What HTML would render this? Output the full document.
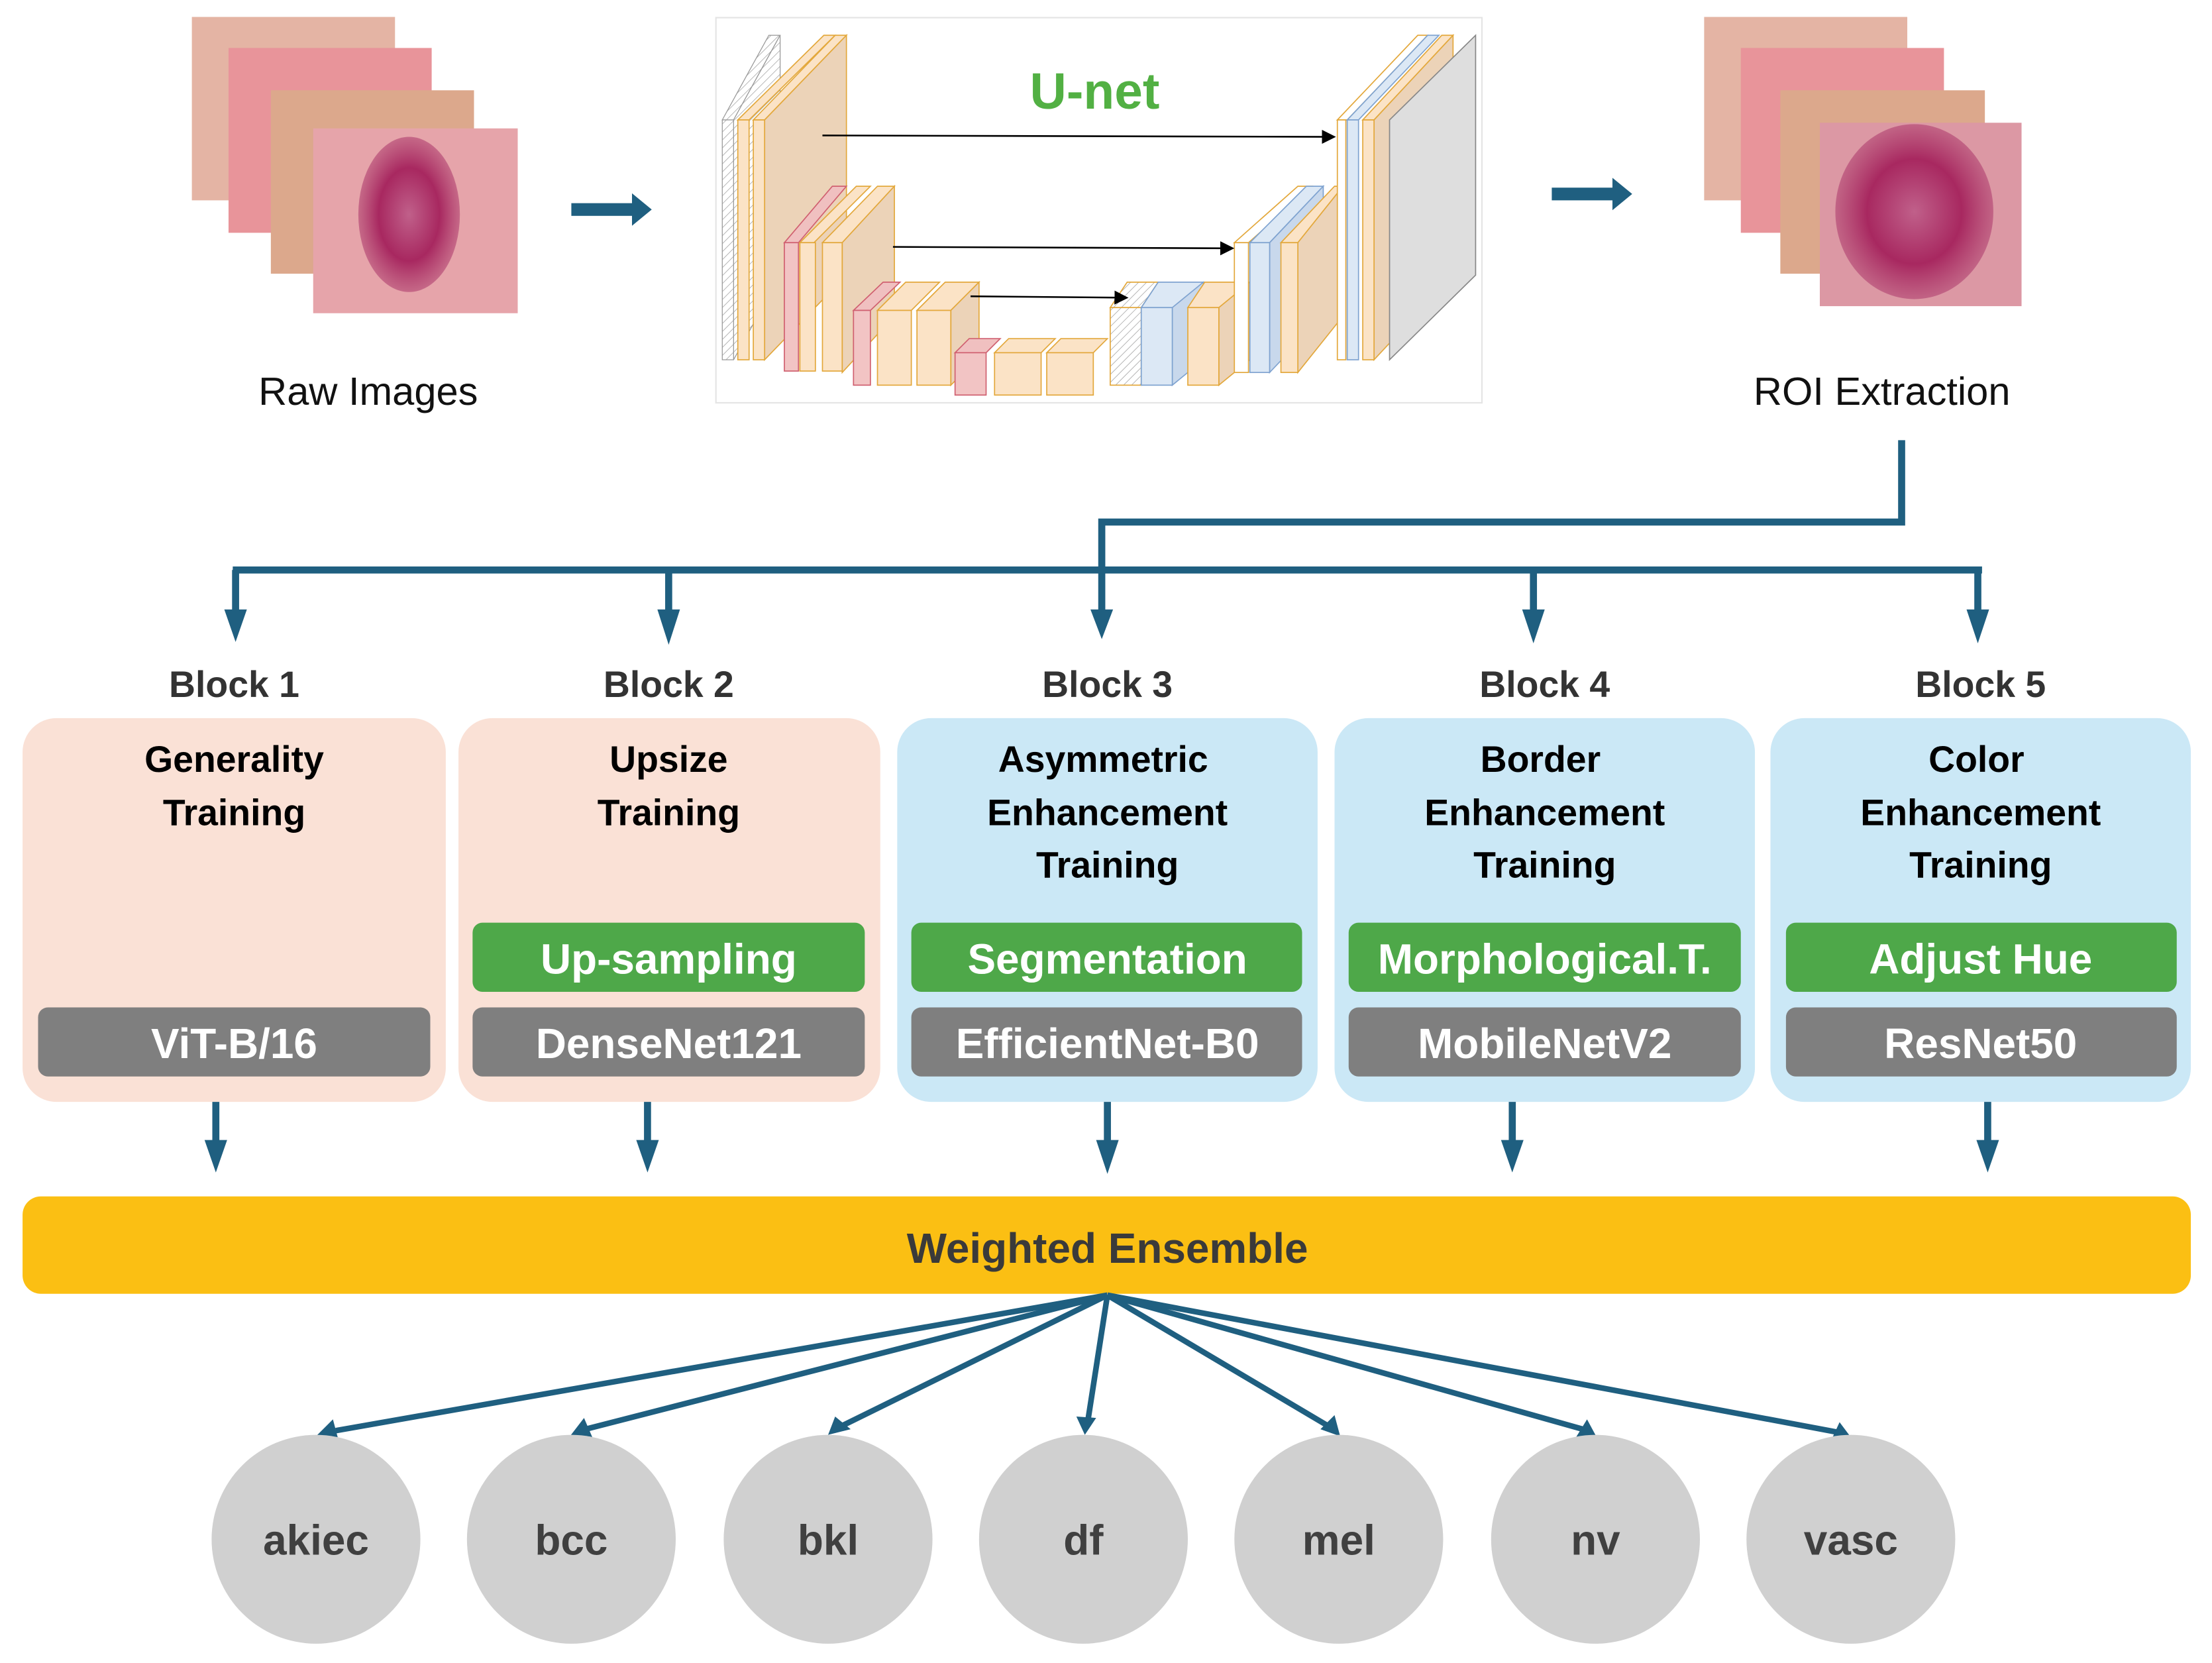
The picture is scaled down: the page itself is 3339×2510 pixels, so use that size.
<!DOCTYPE html>
<html><head><meta charset="utf-8"><style>
html,body{margin:0;padding:0;background:#fff}
svg{display:block}
text{font-family:"Liberation Sans",sans-serif}
</style></head><body>
<svg width="3339" height="2510" viewBox="0 0 1568 1178.7" preserveAspectRatio="none" xmlns="http://www.w3.org/2000/svg">
<defs>
<pattern id="hatch" width="4" height="4" patternUnits="userSpaceOnUse" patternTransform="rotate(45)"><rect width="4" height="4" fill="#fff"/><line x1="0" y1="0" x2="0" y2="4" stroke="#aaa" stroke-width="0.8"/></pattern>
<radialGradient id="les" cx="50%" cy="50%" r="50%"><stop offset="0" stop-color="#c0608a"/><stop offset="0.6" stop-color="#a82860"/><stop offset="1" stop-color="#b04070" stop-opacity="0.6"/></radialGradient>
<marker id="ah" markerWidth="10" markerHeight="10" refX="8" refY="5" orient="auto" markerUnits="userSpaceOnUse"><path d="M0,0 L10,5 L0,10 z" fill="#000"/></marker>
</defs>

<rect x="136" y="12" width="144" height="130" fill="#e4b4a4"/>
<rect x="162" y="34" width="144" height="131" fill="#e8949a"/>
<rect x="192" y="64" width="144" height="130" fill="#dca88c"/>
<rect x="222" y="91" width="145" height="131" fill="#e6a4aa"/>
<ellipse cx="290" cy="152" rx="36" ry="55" fill="url(#les)"/>

<rect x="405" y="144" width="45" height="9" fill="#1f5f80"/>
<polygon points="448,137 462,148.5 448,160" fill="#1f5f80"/>

<rect x="507.5" y="12.5" width="543" height="273" fill="#fff" stroke="#e4e4e4"/>
<text x="776" y="77" font-size="36" font-weight="bold" fill="#52b043" text-anchor="middle">U-net</text>
<polygon points="512,85 545,25 553,25 520,85" fill="url(#hatch)" stroke="#999" stroke-width="0.6"/>
<polygon points="520,85 553,25 553,195 520,255" fill="url(#hatch)" stroke="#999" stroke-width="0.6"/>
<rect x="512" y="85" width="8" height="170" fill="url(#hatch)" stroke="#999" stroke-width="0.6"/>
<polygon points="523,85 584,25 592,25 531,85" fill="#fbe3c6" stroke="#e3a83c" stroke-width="0.8"/>
<rect x="523" y="85" width="8" height="170" fill="#fbe3c6" stroke="#e3a83c" stroke-width="0.8"/>
<polygon points="534,85 592,25 600,25 542,85" fill="#fbe3c6" stroke="#e3a83c" stroke-width="0.8"/>
<polygon points="542,85 600,25 600,195 542,255" fill="#ecd3b8" stroke="#e3a83c" stroke-width="0.8"/>
<rect x="534" y="85" width="8" height="170" fill="#fbe3c6" stroke="#e3a83c" stroke-width="0.8"/>
<polygon points="556,172 590,132 600,132 566,172" fill="#f0c0c0" stroke="#d06070" stroke-width="0.8"/>
<rect x="556" y="172" width="10" height="91" fill="#f2c4c4" stroke="#d06070" stroke-width="0.8"/>
<polygon points="567,172 607,132 617,132 577,172" fill="#fbe3c6" stroke="#e3a83c" stroke-width="0.8"/>
<rect x="567" y="172" width="11" height="91" fill="#fbe3c6" stroke="#e3a83c" stroke-width="0.8"/>
<polygon points="583,172 622,132 634,132 597,172" fill="#fbe3c6" stroke="#e3a83c" stroke-width="0.8"/>
<polygon points="597,172 634,132 634,224 597,264" fill="#ecd3b8" stroke="#e3a83c" stroke-width="0.8"/>
<rect x="583" y="172" width="14" height="91" fill="#fbe3c6" stroke="#e3a83c" stroke-width="0.8"/>
<polygon points="605,220 626,200 638,200 617,220" fill="#f0c0c0" stroke="#d06070" stroke-width="0.8"/>
<rect x="605" y="220" width="12" height="53" fill="#f2c4c4" stroke="#d06070" stroke-width="0.8"/>
<polygon points="622,220 642,200 666,200 646,220" fill="#fbe3c6" stroke="#e3a83c" stroke-width="0.8"/>
<rect x="622" y="220" width="24" height="53" fill="#fbe3c6" stroke="#e3a83c" stroke-width="0.8"/>
<polygon points="650,220 670,200 694,200 674,220" fill="#fbe3c6" stroke="#e3a83c" stroke-width="0.8"/>
<polygon points="674,220 694,200 694,253 674,273" fill="#ecd3b8" stroke="#e3a83c" stroke-width="0.8"/>
<rect x="650" y="220" width="24" height="53" fill="#fbe3c6" stroke="#e3a83c" stroke-width="0.8"/>
<polygon points="677,250 687,240 709,240 699,250" fill="#f0c0c0" stroke="#d06070" stroke-width="0.8"/>
<rect x="677" y="250" width="22" height="30" fill="#f2c4c4" stroke="#d06070" stroke-width="0.8"/>
<polygon points="705,250 715,240 748,240 738,250" fill="#fbe3c6" stroke="#e3a83c" stroke-width="0.8"/>
<rect x="705" y="250" width="33" height="30" fill="#fbe3c6" stroke="#e3a83c" stroke-width="0.8"/>
<polygon points="742,250 752,240 785,240 775,250" fill="#fbe3c6" stroke="#e3a83c" stroke-width="0.8"/>
<rect x="742" y="250" width="33" height="30" fill="#fbe3c6" stroke="#e3a83c" stroke-width="0.8"/>
<polygon points="787,218 799,200 821,200 809,218" fill="url(#hatch)" stroke="#e3a83c" stroke-width="0.8"/>
<rect x="787" y="218" width="22" height="55" fill="url(#hatch)" stroke="#e3a83c" stroke-width="0.8"/>
<polygon points="809,218 821,200 853,200 841,218" fill="#dce8f5" stroke="#7fa3d0" stroke-width="0.8"/>
<polygon points="831,218 853,200 853,255 831,273" fill="#c8d8ec" stroke="#7fa3d0" stroke-width="0.8"/>
<rect x="809" y="218" width="22" height="55" fill="#dce8f5" stroke="#7fa3d0" stroke-width="0.8"/>
<polygon points="842,218 854,200 886,200 864,218" fill="#fbe3c6" stroke="#e3a83c" stroke-width="0.8"/>
<polygon points="864,218 886,200 886,255 864,273" fill="#ecd3b8" stroke="#e3a83c" stroke-width="0.8"/>
<rect x="842" y="218" width="22" height="55" fill="#fbe3c6" stroke="#e3a83c" stroke-width="0.8"/>
<polygon points="875,172 920,132 930,132 885,172" fill="#fff" stroke="#e3a83c" stroke-width="0.8"/>
<rect x="875" y="172" width="10" height="92" fill="#fff" stroke="#e3a83c" stroke-width="0.8"/>
<polygon points="886,172 926,132 938,132 900,172" fill="#dce8f5" stroke="#7fa3d0" stroke-width="0.8"/>
<polygon points="900,172 938,132 938,224 900,264" fill="#c8d8ec" stroke="#7fa3d0" stroke-width="0.8"/>
<rect x="886" y="172" width="14" height="92" fill="#dce8f5" stroke="#7fa3d0" stroke-width="0.8"/>
<polygon points="908,172 946,132 952,132 920,172" fill="#fbe3c6" stroke="#e3a83c" stroke-width="0.8"/>
<polygon points="920,172 952,132 952,224 920,264" fill="#ecd3b8" stroke="#e3a83c" stroke-width="0.8"/>
<rect x="908" y="172" width="12" height="92" fill="#fbe3c6" stroke="#e3a83c" stroke-width="0.8"/>
<polygon points="948,85 1005,25 1012,25 955,85" fill="#fff" stroke="#e3a83c" stroke-width="0.8"/>
<rect x="948" y="85" width="6" height="170" fill="#fff" stroke="#e3a83c" stroke-width="0.8"/>
<polygon points="955,85 1012,25 1020,25 963,85" fill="#dce8f5" stroke="#7fa3d0" stroke-width="0.8"/>
<rect x="955" y="85" width="8" height="170" fill="#dce8f5" stroke="#7fa3d0" stroke-width="0.8"/>
<polygon points="966,85 1022,25 1030,25 974,85" fill="#fbe3c6" stroke="#e3a83c" stroke-width="0.8"/>
<polygon points="974,85 1030,25 1030,195 974,255" fill="#ecd3b8" stroke="#e3a83c" stroke-width="0.8"/>
<rect x="966" y="85" width="8" height="170" fill="#fbe3c6" stroke="#e3a83c" stroke-width="0.8"/>
<polygon points="985,85 1046,25 1046,195 985,255" fill="#dedede" stroke="#888" stroke-width="0.8"/>
<line x1="583" y1="96" x2="945" y2="97" stroke="#000" stroke-width="1.2" marker-end="url(#ah)"/>
<line x1="633" y1="175" x2="873" y2="176" stroke="#000" stroke-width="1.2" marker-end="url(#ah)"/>
<line x1="688" y1="210" x2="798" y2="211" stroke="#000" stroke-width="1.2" marker-end="url(#ah)"/>

<rect x="1100" y="133" width="45" height="9" fill="#1f5f80"/>
<polygon points="1143,126 1157,137.5 1143,149" fill="#1f5f80"/>

<rect x="1208" y="12" width="144" height="130" fill="#e4b4a4"/>
<rect x="1234" y="34" width="144" height="131" fill="#e8949a"/>
<rect x="1262" y="64" width="145" height="130" fill="#dca88c"/>
<rect x="1290" y="87" width="143" height="130" fill="#dc98a4"/>
<ellipse cx="1357" cy="150" rx="56" ry="62" fill="url(#les)"/>

<text x="261" y="287" font-size="28" fill="#111" text-anchor="middle">Raw Images</text>
<text x="1334" y="287" font-size="28" fill="#111" text-anchor="middle">ROI Extraction</text>

<g stroke="#1f5f80" stroke-width="5" fill="none">
<polyline points="1348,312 1348,370 781,370 781,436"/>
<line x1="165" y1="404" x2="1405" y2="404"/>
<line x1="167" y1="404" x2="167" y2="438"/>
<line x1="474" y1="404" x2="474" y2="438"/>
<line x1="1087" y1="404" x2="1087" y2="438"/>
<line x1="1402" y1="404" x2="1402" y2="438"/>
</g>
<g fill="#1f5f80">
<polygon points="159,432 175,432 167,455"/>
<polygon points="466,432 482,432 474,457"/>
<polygon points="773,432 789,432 781,453"/>
<polygon points="1079,432 1095,432 1087,456"/>
<polygon points="1394,432 1410,432 1402,456"/>
</g>

<g font-size="26" font-weight="bold" fill="#333" text-anchor="middle">
<text x="166" y="494">Block 1</text>
<text x="474" y="494">Block 2</text>
<text x="785" y="494">Block 3</text>
<text x="1095" y="494">Block 4</text>
<text x="1404" y="494">Block 5</text>
</g>

<rect x="16" y="509" width="300" height="272" rx="24" fill="#fae1d6"/>
<rect x="325" y="509" width="299" height="272" rx="24" fill="#fae1d6"/>
<rect x="636" y="509" width="298" height="272" rx="24" fill="#cbe8f6"/>
<rect x="946" y="509" width="298" height="272" rx="24" fill="#cbe8f6"/>
<rect x="1255" y="509" width="298" height="272" rx="24" fill="#cbe8f6"/>

<g font-size="26" font-weight="bold" fill="#000" text-anchor="middle">
<text x="166" y="547">Generality</text><text x="166" y="585">Training</text>
<text x="474" y="547">Upsize</text><text x="474" y="585">Training</text>
<text x="782" y="547">Asymmetric</text><text x="785" y="585">Enhancement</text><text x="785" y="622">Training</text>
<text x="1092" y="547">Border</text><text x="1095" y="585">Enhancement</text><text x="1095" y="622">Training</text>
<text x="1401" y="547">Color</text><text x="1404" y="585">Enhancement</text><text x="1404" y="622">Training</text>
</g>

<g fill="#4ea849">
<rect x="335" y="654" width="278" height="49" rx="7"/>
<rect x="646" y="654" width="277" height="49" rx="7"/>
<rect x="956" y="654" width="278" height="49" rx="7"/>
<rect x="1266" y="654" width="277" height="49" rx="7"/>
</g>
<g fill="#7f7f7f">
<rect x="27" y="714" width="278" height="49" rx="7"/>
<rect x="335" y="714" width="278" height="49" rx="7"/>
<rect x="646" y="714" width="277" height="49" rx="7"/>
<rect x="956" y="714" width="278" height="49" rx="7"/>
<rect x="1266" y="714" width="277" height="49" rx="7"/>
</g>
<g font-size="30" font-weight="bold" fill="#fff" text-anchor="middle">
<text x="474" y="690">Up-sampling</text>
<text x="785" y="690">Segmentation</text>
<text x="1095" y="690">Morphological.T.</text>
<text x="1404" y="690">Adjust Hue</text>
<text x="166" y="750">ViT-B/16</text>
<text x="474" y="750">DenseNet121</text>
<text x="785" y="750">EfficientNet-B0</text>
<text x="1095" y="750">MobileNetV2</text>
<text x="1404" y="750">ResNet50</text>
</g>

<g stroke="#1f5f80" stroke-width="5">
<line x1="153" y1="781" x2="153" y2="814"/>
<line x1="459" y1="781" x2="459" y2="814"/>
<line x1="785" y1="781" x2="785" y2="814"/>
<line x1="1072" y1="781" x2="1072" y2="814"/>
<line x1="1409" y1="781" x2="1409" y2="814"/>
</g>
<g fill="#1f5f80">
<polygon points="145,808 161,808 153,831"/>
<polygon points="451,808 467,808 459,831"/>
<polygon points="777,808 793,808 785,832"/>
<polygon points="1064,808 1080,808 1072,831"/>
<polygon points="1401,808 1417,808 1409,831"/>
</g>

<rect x="16" y="848" width="1537" height="69" rx="13" fill="#fbbf13"/>
<text x="785" y="895" font-size="30" font-weight="bold" fill="#3a3a3a" text-anchor="middle">Weighted Ensemble</text>

<g stroke="#1f5f80" stroke-width="4" fill="none">
<line x1="785" y1="918" x2="238" y2="1014"/>
<line x1="785" y1="918" x2="415" y2="1013"/>
<line x1="785" y1="918" x2="596" y2="1011"/>
<line x1="785" y1="918" x2="771" y2="1008"/>
<line x1="785" y1="918" x2="942" y2="1011"/>
<line x1="785" y1="918" x2="1122" y2="1013"/>
<line x1="785" y1="918" x2="1302" y2="1015"/>
</g>
<g fill="#1f5f80">
<polygon points="224,1018 236,1006 240,1021"/>
<polygon points="404,1018 414,1005 420,1019"/>
<polygon points="587,1017 592,1004 603,1013"/>
<polygon points="769,1017 763,1004 777,1005"/>
<polygon points="950,1018 936,1013 946,1003"/>
<polygon points="1132,1019 1117,1019 1125,1006"/>
<polygon points="1313,1020 1298,1021 1304,1008"/>
</g>

<g fill="#d0d0d0">
<circle cx="224" cy="1091" r="74"/>
<circle cx="405" cy="1091" r="74"/>
<circle cx="587" cy="1091" r="74"/>
<circle cx="768" cy="1091" r="74"/>
<circle cx="949" cy="1091" r="74"/>
<circle cx="1131" cy="1091" r="74"/>
<circle cx="1312" cy="1091" r="74"/>
</g>
<g font-size="30" font-weight="bold" fill="#404040" text-anchor="middle">
<text x="224" y="1102">akiec</text>
<text x="405" y="1102">bcc</text>
<text x="587" y="1102">bkl</text>
<text x="768" y="1102">df</text>
<text x="949" y="1102">mel</text>
<text x="1131" y="1102">nv</text>
<text x="1312" y="1102">vasc</text>
</g>
</svg>
</body></html>
